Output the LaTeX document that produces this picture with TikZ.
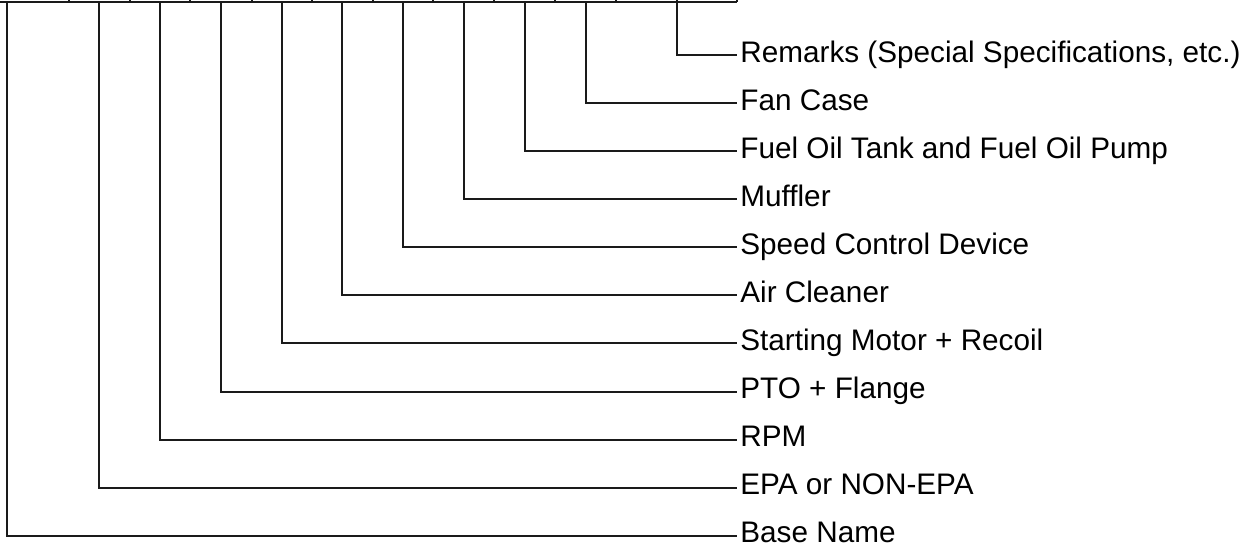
\documentclass[tikz,border=0pt]{standalone}
\usepackage{fontspec}
\setmainfont{Liberation Sans}
\usepackage{xcolor}
\usetikzlibrary{positioning}
\definecolor{ink}{HTML}{1A1A1A}

\begin{document}
\begin{tikzpicture}[
  x=0.5pt,y=-0.5pt,
  label/.style={anchor=west,inner xsep=1.5pt,inner ysep=0.5pt,text height=7pt,text depth=0pt,font=\fontsize{14.85}{17}\selectfont},
  lead/.style={draw=ink,line width=1pt},
  rule/.style={draw=ink,line width=0.9pt}
]
\useasboundingbox (0,0) rectangle (1246,546);
% code field row (cut off at the top)
\draw[rule] (0,2) -- (737,2);
\draw[rule] (69,0) -- (69,2) (130,0) -- (130,2) (190,0) -- (190,2) (252,0) -- (252,2)
  (312,0) -- (312,2) (373,0) -- (373,2) (433,0) -- (433,2) (494,0) -- (494,2)
  (555,0) -- (555,2) (616,0) -- (616,2) (677,0) -- (677,2) (737,0) -- (737,2);
% field positions
\coordinate (fbase) at (7,2);
\coordinate (fepa) at (99,2);
\coordinate (frpm) at (160,2);
\coordinate (fpto) at (221,2);
\coordinate (fstart) at (282,2);
\coordinate (fair) at (342,2);
\coordinate (fspeed) at (403,2);
\coordinate (fmuff) at (464,2);
\coordinate (ffuel) at (525,2);
\coordinate (ffan) at (586,2);
\coordinate (frem) at (677,2);
% labels
\node[label] (rem) at (737,55) {Remarks (Special Specifications, etc.)};
\node[label] (fan) at (737,103.1) {Fan Case};
\node[label] (fuel) at (737,151.1) {Fuel Oil Tank and Fuel Oil Pump};
\node[label] (muff) at (737,199.2) {Muffler};
\node[label] (speed) at (737,247.3) {Speed Control Device};
\node[label] (air) at (737,295.4) {Air Cleaner};
\node[label] (start) at (737,343.4) {Starting Motor + Recoil};
\node[label] (pto) at (737,391.5) {PTO + Flange};
\node[label] (rpm) at (737,439.6) {RPM};
\node[label] (epa) at (737,487.6) {EPA or NON-EPA};
\node[label] (base) at (737,535.7) {Base Name};
% leaders
\draw[lead] (frem) |- (rem.west);
\draw[lead] (ffan) |- (fan.west);
\draw[lead] (ffuel) |- (fuel.west);
\draw[lead] (fmuff) |- (muff.west);
\draw[lead] (fspeed) |- (speed.west);
\draw[lead] (fair) |- (air.west);
\draw[lead] (fstart) |- (start.west);
\draw[lead] (fpto) |- (pto.west);
\draw[lead] (frpm) |- (rpm.west);
\draw[lead] (fepa) |- (epa.west);
\draw[lead] (fbase) |- (base.west);
\end{tikzpicture}
\end{document}
